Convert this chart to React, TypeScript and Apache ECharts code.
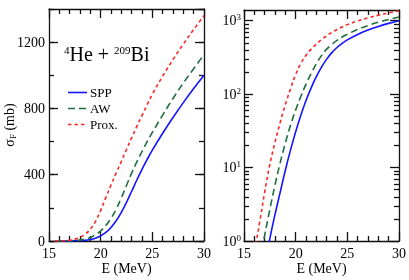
import React, { useEffect, useRef } from "react";
import * as echarts from "echarts";

const ENERGY = [15.6, 16, 16.5, 17, 17.5, 18, 18.5, 19, 19.5, 20, 20.5, 21, 21.5, 22, 22.5, 23, 23.5, 24, 24.5, 25, 26, 27, 28, 29, 30];
const SPP = [0.045, 0.09, 0.21, 0.48, 1.08, 2.3, 4.6, 9.2, 17.3, 30.7, 51.5, 82, 122, 173, 233, 300, 368, 432, 492, 548, 650, 745, 835, 920, 1000];
const AW = [0.1, 0.2, 0.5, 1.19, 2.7, 5.8, 11.6, 21.6, 37.6, 61, 93, 137, 192, 260, 335, 410, 477, 540, 600, 655, 760, 860, 953, 1040, 1125];
const PROX = [0.33, 0.69, 1.75, 4.6, 11, 22, 41, 72, 118, 185, 262, 338, 410, 480, 552, 623, 692, 758, 822, 885, 995, 1095, 1188, 1276, 1360];
const SERIES_NAMES = ["SPP", "AW", "Prox."];
const X_TICKS = [15, 20, 25, 30];
const LOG_MAJOR = [1, 10, 100, 1000];
const LOG_MINOR = [2, 3, 4, 5, 6, 7, 8, 9, 20, 30, 40, 50, 60, 70, 80, 90, 200, 300, 400, 500, 600, 700, 800, 900];

const FONT = "'Liberation Serif', 'Times New Roman', serif";
const AX = "#111";
const COLORS = ["#1414ff", "#1f6e3f", "#ff2626"];
const DASHES: any[] = ["solid", [7, 4], [3.5, 3]];

export default function App() {
  const ref = useRef<HTMLDivElement>(null);
  useEffect(() => {
    if (!ref.current) return;
    const chart = echarts.init(ref.current, null, { renderer: "svg" });
    const lineStyle = { color: AX, width: 1.3 };
    const xAx = (gridIndex: number, position: string, showLabel: boolean) => ({
      type: "value",
      gridIndex,
      position,
      min: X_TICKS[0],
      max: X_TICKS[X_TICKS.length - 1],
      interval: 5,
      axisLine: { show: true, onZero: false, lineStyle },
      axisTick: { show: true, inside: true, length: 9, lineStyle },
      minorTick: { show: true, splitNumber: 5, length: 5, lineStyle },
      splitLine: { show: false },
      minorSplitLine: { show: false },
      axisLabel: { show: showLabel, fontSize: 14, color: "#000", fontFamily: FONT, margin: 5 },
      name: showLabel ? "E (MeV)" : "",
      nameLocation: "middle",
      nameGap: 20,
      nameMoveOverlap: false,
      nameTextStyle: { fontSize: 14, color: "#000", fontFamily: FONT },
    });
    const linY = (position: string, major: boolean, showLabel: boolean) => ({
      type: "value",
      gridIndex: 0,
      position,
      min: 0,
      max: 1400,
      interval: major ? 400 : 200,
      axisLine: { show: major, onZero: false, lineStyle },
      axisTick: { show: true, inside: true, length: major ? 9 : 5, lineStyle },
      splitLine: { show: false },
      axisLabel: {
        show: showLabel,
        showMaxLabel: false,
        fontSize: 14,
        color: "#000",
        fontFamily: FONT,
        margin: 4,
        formatter: (v: number) => String(v),
      },
      name: showLabel ? "{n|σ}{sub|F}{n| (mb)}" : "",
      nameLocation: "middle",
      nameRotate: 90,
      nameGap: 32,
      nameMoveOverlap: false,
      nameTextStyle: {
        rich: {
          n: { fontSize: 14, color: "#000", fontFamily: FONT },
          sub: { fontSize: 9, color: "#000", fontFamily: FONT, padding: [7, 0, 0, 0] },
        },
      },
    });
    const logY = (position: string, major: boolean, showLabel: boolean) => ({
      type: "log",
      logBase: 10,
      gridIndex: 1,
      position,
      min: 1,
      max: 1400,
      axisLine: { show: major, onZero: false, lineStyle },
      axisTick: {
        show: true,
        inside: true,
        length: major ? 9 : 5,
        lineStyle,
        customValues: major ? LOG_MAJOR : LOG_MINOR,
      },
      splitLine: { show: false },
      axisLabel: {
        show: showLabel,
        customValues: LOG_MAJOR,
        margin: 3,
        formatter: (v: number) => `{b|10}{s|${Math.round(Math.log10(v))}}`,
        rich: {
          b: { fontSize: 14, color: "#000", fontFamily: FONT },
          s: { fontSize: 9, color: "#000", fontFamily: FONT, padding: [0, 0, 7, 0] },
        },
      },
    });

    const series: any[] = [];
    const sets = [SPP, AW, PROX];
    sets.forEach((vals, i) => {
      const data = ENERGY.map((e, k) => [e, vals[k]]);
      [
        [0, 0],
        [2, 4],
      ].forEach(([xi, yi]) => {
        series.push({
          name: SERIES_NAMES[i],
          type: "line",
          xAxisIndex: xi,
          yAxisIndex: yi,
          data,
          showSymbol: false,
          smooth: 0.4,
          clip: true,
          lineStyle: { color: COLORS[i], width: 1.6, type: DASHES[i] },
        });
      });
    });

    const legendY = [92.5, 108.5, 124.5];
    const legend: any[] = [];
    SERIES_NAMES.forEach((n, i) => {
      legend.push({
        type: "line",
        shape: { x1: 68, y1: legendY[i], x2: 87, y2: legendY[i] },
        style: { stroke: COLORS[i], lineWidth: 1.6, lineDash: DASHES[i] === "solid" ? null : DASHES[i] },
      });
      legend.push({
        type: "text",
        x: 90,
        y: legendY[i],
        style: { text: n, fontSize: 13, fontFamily: FONT, fill: "#000", verticalAlign: "middle" },
      });
    });

    chart.setOption({
      animation: false,
      grid: [
        { left: 49, top: 9, width: 155, height: 232, outerBoundsMode: "none", containLabel: false },
        { left: 244, top: 10, width: 155, height: 231, outerBoundsMode: "none", containLabel: false },
      ],
      xAxis: [xAx(0, "bottom", true), xAx(0, "top", false), xAx(1, "bottom", true), xAx(1, "top", false)],
      yAxis: [
        linY("left", true, true),
        linY("left", false, false),
        linY("right", true, false),
        linY("right", false, false),
        logY("left", true, true),
        logY("left", false, false),
        logY("right", true, false),
        logY("right", false, false),
      ],
      series,
      graphic: [
        {
          type: "text",
          x: 64,
          y: 44,
          style: {
            text: "{sup|4}{n|He + }{sup|209}{n|Bi}",
            rich: {
              n: { fontSize: 20, fontFamily: FONT, fill: "#000" },
              sup: { fontSize: 11, fontFamily: FONT, fill: "#000", padding: [0, 0, 9, 0] },
            },
          },
        },
        ...legend,
      ],
    });
    return () => chart.dispose();
  }, []);
  return <div ref={ref} style={{ position: "fixed", left: 0, top: 0, width: 409, height: 280 }} />;
}
